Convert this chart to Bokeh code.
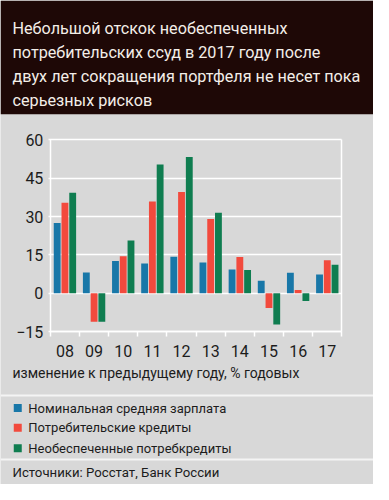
import numpy as np
from bokeh.plotting import figure
from bokeh.models import Range1d, FixedTicker, LinearAxis, BoxAnnotation
from bokeh.core.properties import value
from bokeh.embed import file_html
from bokeh.resources import INLINE

# ---- data ----
years = ["08", "09", "10", "11", "12", "13", "14", "15", "16", "17"]
wage = [27.5, 8.1, 12.6, 11.6, 14.3, 12.0, 9.3, 4.9, 8.0, 7.3]
consumer = [35.4, -11.2, 14.5, 35.9, 39.6, 29.0, 14.2, -5.8, 1.3, 12.9]
unsecured = [39.3, -11.2, 20.6, 50.4, 53.3, 31.5, 9.1, -12.2, -3.0, 11.1]
y_ticks = [-15, 0, 15, 30, 45, 60]
series_names = ["Номинальная средняя зарплата", "Потребительские кредиты",
                "Необеспеченные потребкредиты"]
title_lines = ["Небольшой отскок необеспеченных",
               "потребительских ссуд в 2017 году после",
               "двух лет сокращения портфеля не несет пока",
               "серьезных рисков"]
axis_note = "изменение к предыдущему году, % годовых"
source_note = "Источники: Росстат, Банк России"

BLUE = "#1877a8"
RED = "#f24a3d"
GREEN = "#0f7d50"
BG = "#d8d8d8"
DARK = "#1e0806"
INK = "#1c1c1c"
FONT = "Roboto"

W, H = 373, 484
n = len(years)
Y0, Y1 = -15, 60

# layout of the reference (pixels): chart box x 52..356, y 144 (=60) .. 342 (=-15)
REF_W, REF_H = 389.0, 500.0
CX0, CX1, CY_TOP, CY_BOT = 52.0, 356.0, 144.0, 342.0
px_per_cat = (CX1 - CX0) / n
px_per_val = (CY_BOT - CY_TOP) / (Y1 - Y0)


def dx(xr):
    return (xr - CX0) / px_per_cat


def dy(yr):
    return Y0 + (CY_BOT - yr) / px_per_val


p = figure(width=W, height=H, x_range=Range1d(dx(0), dx(REF_W)), y_range=Range1d(dy(REF_H), dy(0)),
           output_backend="svg", toolbar_location=None, min_border=0,
           x_axis_location=None, y_axis_location=None)
p.grid.visible = False
p.outline_line_color = None
p.background_fill_color = BG
p.border_fill_color = BG

# title band
p.add_layout(BoxAnnotation(bottom=dy(117.5), fill_color=DARK, fill_alpha=1.0,
                           line_color=None, level="underlay"))
p.text(x=[dx(12.5)] * 4, y=[dy(v) for v in [28.5, 53.5, 78.5, 103]], text=title_lines,
       text_font=value(FONT), text_font_size="16.2px", text_color="#f3eee8",
       text_baseline="alphabetic", text_align="left")

# y axis (its long inward ticks act as the white gridlines)
frame_w_px = (CX1 - CX0) * W / REF_W
yax = LinearAxis(fixed_location=0, bounds=(Y0, Y1), ticker=FixedTicker(ticks=y_ticks),
                 axis_line_color="white", axis_line_width=1.5,
                 major_tick_line_color="white", major_tick_line_width=1.5,
                 major_tick_out=2, major_tick_in=int(round(frame_w_px)),
                 minor_tick_line_color=None,
                 major_label_text_font=FONT, major_label_text_font_size="16px",
                 major_label_text_color=INK, major_label_standoff=5, level="underlay")
p.add_layout(yax, "left")

# right border of chart box
rax = LinearAxis(fixed_location=n, bounds=(Y0, Y1), ticker=FixedTicker(ticks=[]),
                 axis_line_color="white", axis_line_width=1.5,
                 major_tick_line_color=None, minor_tick_line_color=None,
                 major_label_text_alpha=0, level="underlay")
p.add_layout(rax, "right")

# x axis with category labels, boundary ticks as minor ticks
centers = np.arange(n) + 0.5
xax = LinearAxis(fixed_location=Y0, bounds=(0, n),
                 ticker=FixedTicker(ticks=list(centers), minor_ticks=list(np.arange(n + 1))),
                 major_label_overrides={float(c): y for c, y in zip(centers, years)},
                 axis_line_color="white", axis_line_width=1.5,
                 major_tick_line_color=None, major_tick_out=0, major_tick_in=0,
                 minor_tick_line_color="white", minor_tick_line_width=1.5,
                 minor_tick_out=5, minor_tick_in=0,
                 major_label_text_font=FONT, major_label_text_font_size="16px",
                 major_label_text_color=INK, major_label_standoff=8)
p.add_layout(xax, "below")

# bars
bw = 0.235
off = 0.266
for vals, col, d in [(wage, BLUE, -off), (consumer, RED, 0.0), (unsecured, GREEN, off)]:
    p.vbar(x=centers + d, top=vals, bottom=0, width=bw, fill_color=col, line_color=None)

# axis note
p.text(x=[dx(12.5)], y=[dy(385)], text=[axis_note], text_font=value(FONT),
       text_font_size="14px", text_color=INK, text_baseline="middle")

# separators
p.hspan(y=[dy(408), dy(474)], line_color="#f4f4f4", line_width=2)

# legend
leg_y = [dy(v) for v in [421, 441.5, 462.5]]
p.scatter(x=[dx(18)] * 3, y=leg_y, marker="square", size=8,
          fill_color=[BLUE, RED, GREEN], line_color=None)
p.text(x=[dx(29)] * 3, y=leg_y, text=series_names, text_font=value(FONT),
       text_font_size="13px", text_color=INK, text_baseline="middle")

# source
p.text(x=[dx(12.5)], y=[dy(488)], text=[source_note], text_font=value(FONT),
       text_font_size="13.2px", text_color=INK, text_baseline="middle")

open("out.html", "w").write(file_html(p, INLINE))
